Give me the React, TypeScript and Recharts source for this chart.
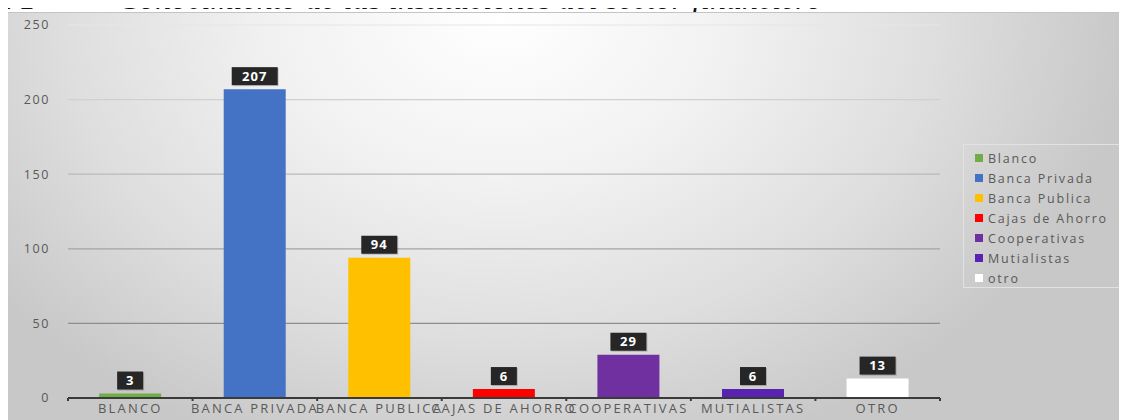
import React from 'react';
import { BarChart, Bar, XAxis, YAxis, CartesianGrid, Cell, LabelList } from 'recharts';

const categories = ['BLANCO', 'BANCA PRIVADA', 'BANCA PUBLICA', 'CAJAS DE AHORRO', 'COOPERATIVAS', 'MUTIALISTAS', 'OTRO'];
const values = [3, 207, 94, 6, 29, 6, 13];
const legendNames = ['Blanco', 'Banca Privada', 'Banca Publica', 'Cajas de Ahorro', 'Cooperativas', 'Mutialistas', 'otro'];
const colors = ['#70AD47', '#4472C4', '#FFC000', '#FF0000', '#7030A0', '#5A22B0', '#FFFFFF'];
const yTicks = [0, 50, 100, 150, 200, 250];
const boundaryTicks = [0, 1, 2, 3, 4, 5, 6, 7];

const data = categories.map((c, i) => ({ name: c, value: values[i], pos: i + 0.5 }));

const FONT = '"Open Sans", "Liberation Sans", sans-serif';

const renderLabel = (props: any) => {
  const { x, y, width, value } = props;
  const n = String(value).length;
  const w = 16 + 10 * n;
  const h = 18;
  const cx = Number(x) + Number(width) / 2;
  const top = Number(y) - 4 - h;
  return (
    <g>
      <rect x={cx - w / 2 + 1} y={top + 1} width={w} height={h} fill="rgba(0,0,0,0.18)" />
      <rect x={cx - w / 2} y={top} width={w} height={h} fill="#262626" />
      <text x={cx} y={top + h / 2} dy="0.36em" textAnchor="middle" fill="#ffffff" fontWeight="bold" fontSize={13} fontFamily={FONT} letterSpacing={1}>
        {value}
      </text>
    </g>
  );
};

export default function App() {
  return (
    <div style={{ position: 'relative', width: 1119, height: 412 }}>
      <svg width={1127} height={12} style={{ position: 'absolute', left: -8, top: -8, overflow: 'hidden' }}>
        <text x={-4} y={9} fontFamily='"Liberation Serif", serif' fontStyle="italic" fontSize={32} fill="#111">a 1</text>
        <text x={118} y={9} fontFamily='"Liberation Serif", serif' fontStyle="italic" fontSize={32} fill="#111">Conocimiento de las instituciones del sector financiero</text>
      </svg>
      <div
        style={{
          position: 'absolute',
          left: 0,
          top: 4,
          width: 1119,
          height: 408,
          borderTop: '1px solid #c4c4c4',
          boxSizing: 'border-box',
          background: 'radial-gradient(ellipse 56% 115% at 44% 0%, #ffffff 0%, #f2f2f2 35%, #dedede 70%, #c8c8c8 100%)',
        }}
      >
        <div style={{ position: 'absolute', left: 0, top: -1 }}>
          <BarChart width={1119} height={408} data={data} margin={{ top: 13, right: 187, bottom: 0, left: 0 }} barCategoryGap="25%">
            <defs>
              <linearGradient id="gridGrad" gradientUnits="userSpaceOnUse" x1="0" y1="13" x2="0" y2="386">
                <stop offset="0%" stopColor="#e6e6e6" />
                <stop offset="100%" stopColor="#777777" />
              </linearGradient>
            </defs>
            <CartesianGrid xAxisId={1} vertical={false} stroke="url(#gridGrad)" strokeWidth={1.2} />
            <XAxis
              xAxisId={0}
              type="number"
              dataKey="pos"
              domain={[0, 7]}
              ticks={boundaryTicks}
              height={1}
              axisLine={{ stroke: '#3a3a3a', strokeWidth: 2 }}
              tickLine={{ stroke: '#3a3a3a', strokeWidth: 2 }}
              tickSize={3}
              tickFormatter={() => ''}
            />
            <XAxis
              xAxisId={1}
              dataKey="name"
              height={21}
              axisLine={false}
              tickLine={false}
              tickSize={0}
              tickMargin={5}
              interval={0}
              tick={{ fill: '#595959', fontSize: 13, fontFamily: FONT, letterSpacing: 2.2 }}
            />
            <YAxis
              domain={[0, 250]}
              ticks={yTicks}
              width={60}
              axisLine={false}
              tickLine={false}
              tickSize={0}
              tickMargin={18}
              tick={{ fill: '#595959', fontSize: 12.5, fontFamily: FONT, letterSpacing: 1.6 }}
            />
            <Bar xAxisId={1} dataKey="value" isAnimationActive={false}>
              {data.map((d, i) => (
                <Cell key={d.name} fill={colors[i]} />
              ))}
              <LabelList dataKey="value" content={renderLabel} />
            </Bar>
          </BarChart>
        </div>
        <div
          style={{
            position: 'absolute',
            left: 955,
            top: 131,
            width: 160,
            height: 144,
            border: '1px solid #e2e2e2',
            boxSizing: 'border-box',
            paddingTop: 3,
            paddingLeft: 11,
            fontFamily: FONT,
            fontSize: 12.5,
            color: '#595959',
            letterSpacing: 1.8,
            whiteSpace: 'nowrap',
          }}
        >
          {legendNames.map((n, i) => (
            <div key={n} style={{ height: 20, display: 'flex', alignItems: 'center' }}>
              <span style={{ display: 'inline-block', width: 8, height: 8, background: colors[i], marginRight: 5 }} />
              <span>{n}</span>
            </div>
          ))}
        </div>
      </div>
    </div>
  );
}
